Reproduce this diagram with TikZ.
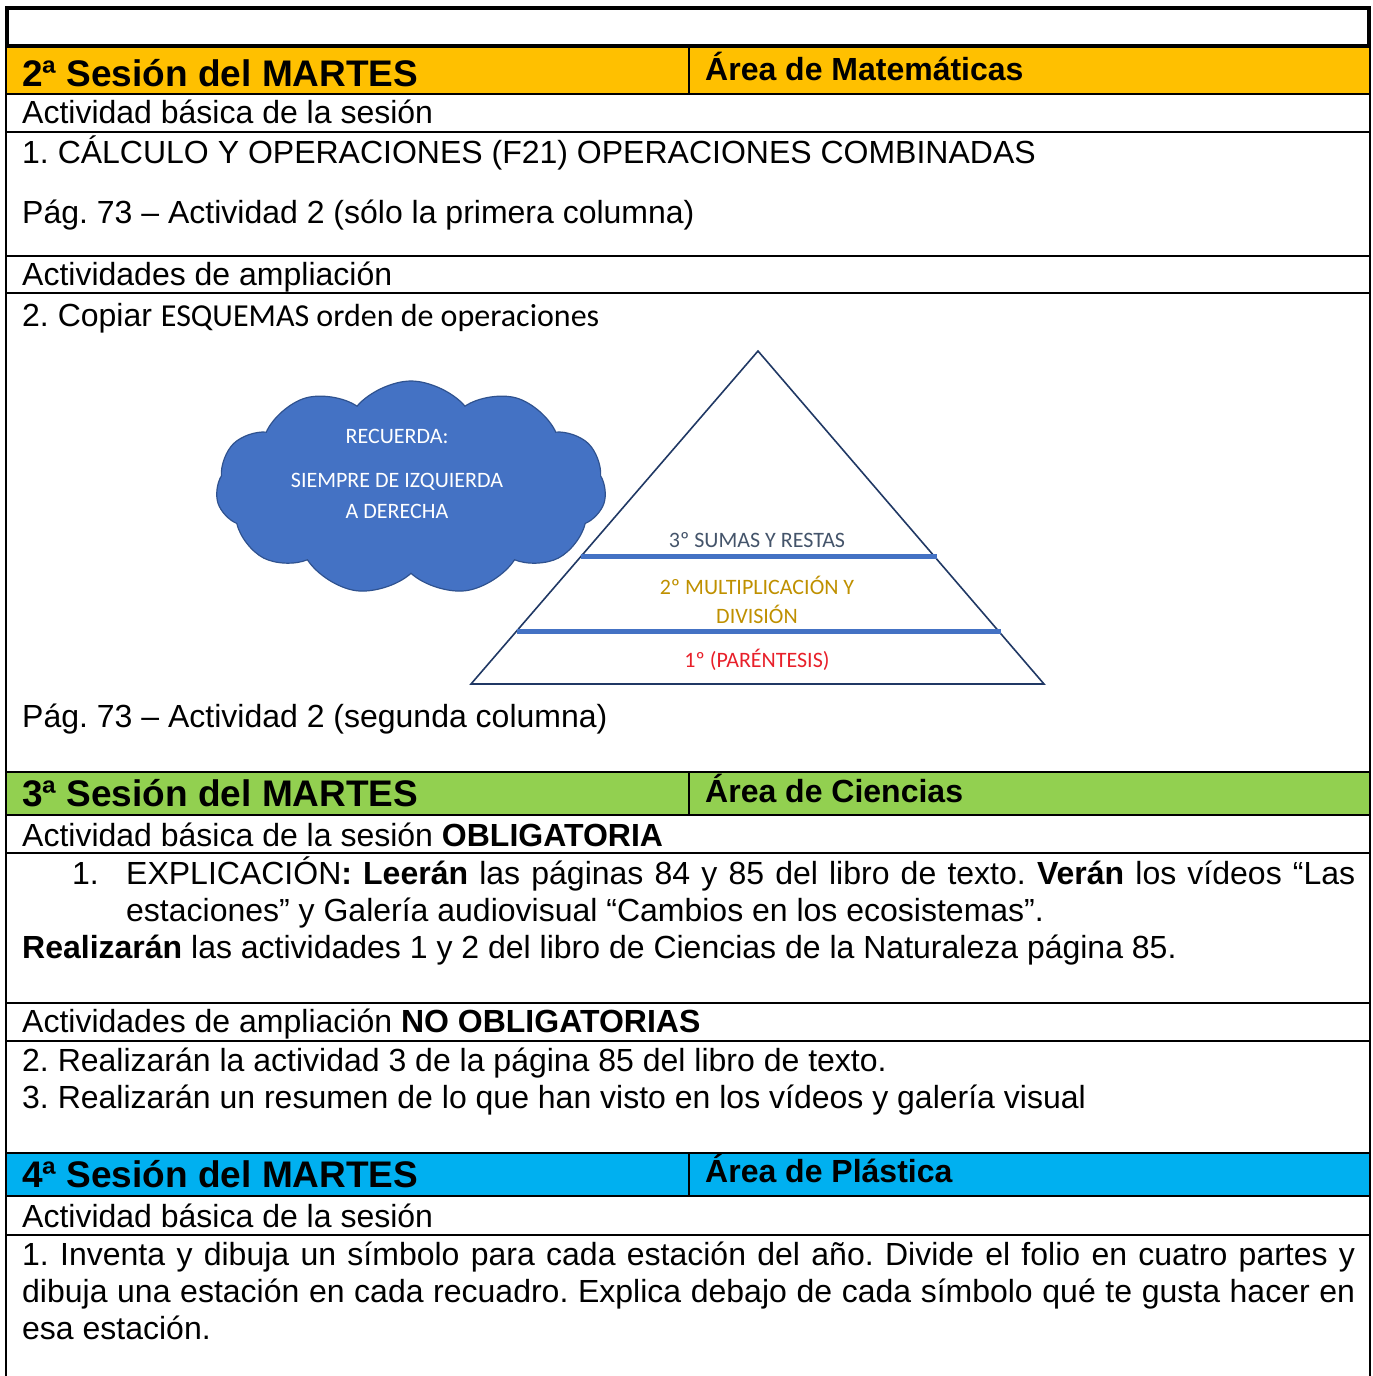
\documentclass[tikz,border=0pt]{standalone}
\usepackage{fontspec}
\setmainfont{Liberation Sans}
\newfontfamily\calib{Carlito}
\usetikzlibrary{shapes.symbols}
\usetikzlibrary{calc}
\definecolor{naranja}{HTML}{FFC000}
\definecolor{verde}{HTML}{92D050}
\definecolor{azul}{HTML}{00B0F0}
\definecolor{nube}{HTML}{4472C4}
\definecolor{nubeborde}{HTML}{2F528F}
\definecolor{trazo}{HTML}{203864}
\definecolor{gris}{HTML}{44546A}
\definecolor{oro}{HTML}{BF9000}
\definecolor{rojo}{HTML}{E8202A}
\frenchspacing

\begin{document}
\begin{tikzpicture}[x=1pt,y=-1pt,
        txt/.style={anchor=base west,inner sep=0pt,font=\fontsize{32}{37}\selectfont},
        hdr/.style={anchor=base west,inner sep=0pt,font=\fontsize{37}{40}\selectfont\bfseries},
        area/.style={anchor=base west,inner sep=0pt,font=\fontsize{32}{37}\selectfont\bfseries},
        regla/.style={line width=2pt},
        esq/.style={inner sep=0pt,font=\calib\fontsize{22}{26}\selectfont},
        banda/.style={nube,line width=5pt}]
        \useasboundingbox (0,0) rectangle (1373,1376);
        \fill[naranja] (6,47) rectangle (1370,94);
        \fill[verde] (6,772) rectangle (1370,815);
        \fill[azul] (6,1153) rectangle (1370,1196);
        \draw[line width=4pt] (6.5,7.5) rectangle (1369,45.5);
        \draw[regla] (6,45) -- (6,1376) (1370,45) -- (1370,1376);
        \foreach \y in {94,132,256,293,772,815,853,1003,1041,1153,1196,1235}
            \draw[regla] (6,\y) -- (1370,\y);
        \draw[regla] (689,47) -- (689,94) (689,772) -- (689,815) (689,1153) -- (689,1196);
        % martes 2
        \node[hdr] (s2) at (22,86) {2ª Sesión del MARTES};
        \node[area] (a2) at (705,80) {Área de Matemáticas};
        \node[txt] (b2) at (22,123) {Actividad básica de la sesión};
        \node[txt] (c2) at (22,163) {1. CÁLCULO Y OPERACIONES (F21) OPERACIONES COMBINADAS};
        \node[txt] (p2) at (22,223) {Pág. 73 – Actividad 2 (sólo la primera columna)};
        \node[txt] (m2) at (22,285) {Actividades de ampliación};
        \node[txt] (e2) at (22,326) {2. Copiar {\calib ESQUEMAS orden de operaciones}};
        \node[txt] (q2) at (22,727) {Pág. 73 – Actividad 2 (segunda columna)};
        % esquema
        \node[cloud,cloud puffs=11,cloud puff arc=100,aspect=1.8,draw=nubeborde,fill=nube,line width=1.2pt,
              minimum width=390,minimum height=214] (nube) at (411,488) {};
        \node[esq,white] (n1) at (397,436) {RECUERDA:};
        \node[esq,white] (n2) at (397,482) {SIEMPRE DE IZQUIERDA};
        \node[esq,white] (n3) at (397,511) {A DERECHA};
        \coordinate (cima) at (758,351);
        \coordinate (izq) at (471,684);
        \coordinate (der) at (1044,684);
        \draw[trazo,line width=1.6pt] (cima) -- (der) -- (izq) -- cycle;
        \draw[banda] ($(cima)!0.616!(izq)$) -- ($(cima)!0.616!(der)+(3,0)$);
        \draw[banda] ($(cima)!0.841!(izq)$) -- ($(cima)!0.841!(der)+(2,0)$);
        \node[esq,gris] (t3) at (757,540) {3º SUMAS Y RESTAS};
        \node[esq,oro] (t2) at (757,585) {2º MULTIPLICACIÓN Y};
        \node[esq,oro] (t2b) at (757,614) {DIVISIÓN};
        \node[esq,rojo] (t1) at (757,660) {1º (PARÉNTESIS)};
        % martes 3
        \node[hdr] (s3) at (22,806) {3ª Sesión del MARTES};
        \node[area] (a3) at (705,802) {Área de Ciencias};
        \node[txt] (b3) at (22,846) {Actividad básica de la sesión \textbf{OBLIGATORIA}};
        \node[txt] (n31) at (72,884) {1.};
        \node[txt,text width=1229,align=justify] (c3) at (126,884)
            {EXPLICACIÓN\textbf{:} \textbf{Leerán} las páginas 84 y 85 del libro de texto. \textbf{Verán} los vídeos “Las\linebreak estaciones” y Galería audiovisual “Cambios en los ecosistemas”.};
        \node[txt] (r3) at (22,958) {\textbf{Realizarán} las actividades 1 y 2 del libro de Ciencias de la Naturaleza página 85.};
        \node[txt] (m3) at (22,1032) {Actividades de ampliación \textbf{NO OBLIGATORIAS}};
        \node[txt] (d3) at (22,1071) {2. Realizarán la actividad 3 de la página 85 del libro de texto.};
        \node[txt] (f3) at (22,1108) {3. Realizarán un resumen de lo que han visto en los vídeos y galería visual};
        % martes 4
        \node[hdr] (s4) at (22,1187) {4ª Sesión del MARTES};
        \node[area] (a4) at (705,1182) {Área de Plástica};
        \node[txt] (b4) at (22,1227) {Actividad básica de la sesión};
        \node[txt,text width=1333,align=justify] (c4) at (22,1265)
            {1. Inventa y dibuja un símbolo para cada estación del año. Divide el folio en cuatro partes y\linebreak dibuja una estación en cada recuadro. Explica debajo de cada símbolo qué te gusta hacer en\linebreak esa estación.};
    \end{tikzpicture}
\end{document}
